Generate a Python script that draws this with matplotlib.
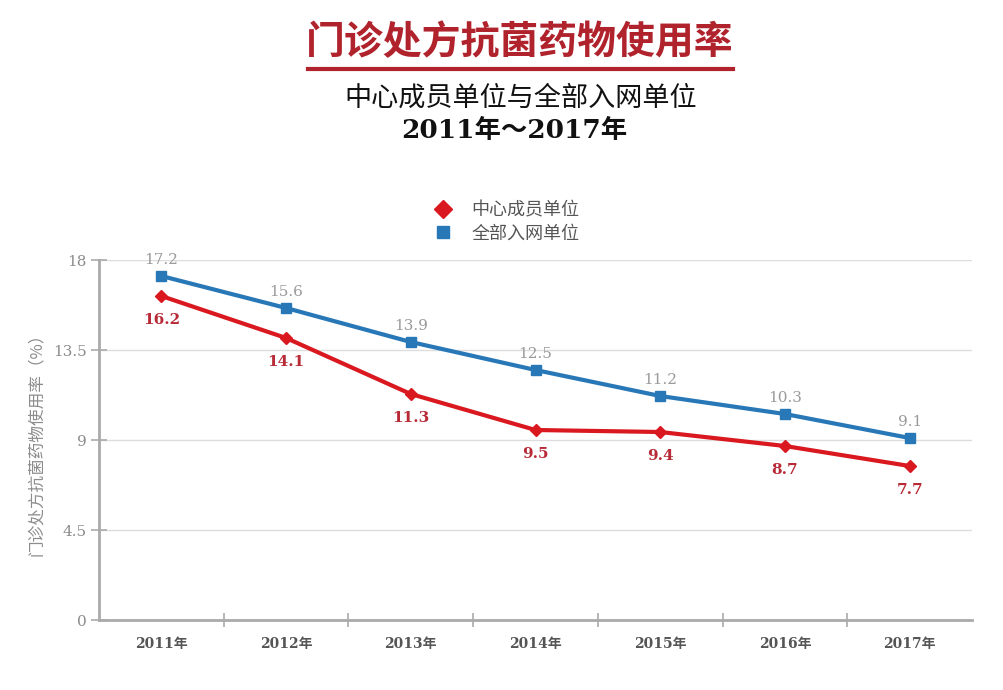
import matplotlib.pyplot as plt
from matplotlib.lines import Line2D

# 数据
years = ['2011年', '2012年', '2013年', '2014年', '2015年', '2016年', '2017年']
center = [16.2, 14.1, 11.3, 9.5, 9.4, 8.7, 7.7]      # 中心成员单位
network = [17.2, 15.6, 13.9, 12.5, 11.2, 10.3, 9.1]  # 全部入网单位
yticks = [0, 4.5, 9, 13.5, 18]
ytick_labels = ['0', '4.5', '9', '13.5', '18']

cjk = ['Noto Sans CJK SC', 'DejaVu Sans']
serif = ['DejaVu Serif', 'Noto Sans CJK SC']

red = '#d9191f'
red_txt = '#b72a36'
blue = '#2878b8'
grey = '#8c8c8c'

fig = plt.figure(figsize=(10.04, 6.9), dpi=100)
ax = fig.add_axes([99 / 1004, 1 - 620 / 690, (972 - 99) / 1004, 360 / 690])

x = list(range(len(years)))
ax.plot(x, network, color=blue, lw=3, marker='s', ms=7, clip_on=False, zorder=3)
ax.plot(x, center, color=red, lw=3, marker='D', ms=6, clip_on=False, zorder=3)

for i in x:
    ax.text(i, network[i] + 0.8, f'{network[i]:.1f}', ha='center', va='center',
            fontsize=11, color='#9a9a9a', family=serif)
    ax.text(i, center[i] - 1.2, f'{center[i]:.1f}', ha='center', va='center',
            fontsize=11, color=red_txt, fontweight='bold', family=serif)

ax.set_xlim(-0.5, 6.5)
ax.set_ylim(0, 18)
ax.set_yticks(yticks)
ax.set_yticklabels(ytick_labels, family=serif, fontsize=11, color=grey)
ax.set_xticks([i + 0.5 for i in range(6)], minor=False)
ax.set_xticklabels([])
ax.set_xticks(x, minor=True)
ax.set_xticklabels(years, minor=True, family=serif, fontsize=10,
                   fontweight='bold', color='#555555')
ax.tick_params(axis='x', which='minor', length=0, pad=12)
ax.tick_params(axis='x', which='major', direction='inout', length=10,
               color='#aaaaaa', width=1.2)
ax.tick_params(axis='y', direction='inout', length=12, color='#aaaaaa',
               width=1.2, pad=3)
ax.grid(axis='y', color='#dddddd', lw=1)
ax.set_axisbelow(True)
for s in ['top', 'right']:
    ax.spines[s].set_visible(False)
for s in ['left', 'bottom']:
    ax.spines[s].set_color('#aaaaaa')
    ax.spines[s].set_linewidth(2)

ax.set_ylabel('门诊处方抗菌药物使用率（%）', family=cjk, fontsize=12,
              color=grey, labelpad=6)

# 图例
handles = [Line2D([], [], color=red, marker='D', ls='none', ms=9),
           Line2D([], [], color=blue, marker='s', ls='none', ms=9)]
fig.legend(handles, ['中心成员单位', '全部入网单位'], loc='center',
           bbox_to_anchor=(502 / 1004, 1 - 222 / 690), frameon=False,
           prop={'family': cjk, 'size': 13}, labelcolor='#555555',
           handletextpad=0.6, labelspacing=0.3)

# 标题
fig.text(520 / 1004, 1 - 43 / 690, '门诊处方抗菌药物使用率', ha='center', va='center',
         fontsize=28, fontweight='bold', color='#b0222c', family=cjk)
fig.add_artist(Line2D([308 / 1004, 733 / 1004], [1 - 69 / 690, 1 - 69 / 690],
                      color='#b0222c', lw=3))
fig.text(521 / 1004, 1 - 98 / 690, '中心成员单位与全部入网单位', ha='center', va='center',
         fontsize=19.5, color='#111111', family=cjk)
fig.text(514 / 1004, 1 - 130 / 690, '2011年～2017年', ha='center', va='center',
         fontsize=19, fontweight='bold', color='#111111', family=serif)

plt.savefig('out.png', dpi=100)
